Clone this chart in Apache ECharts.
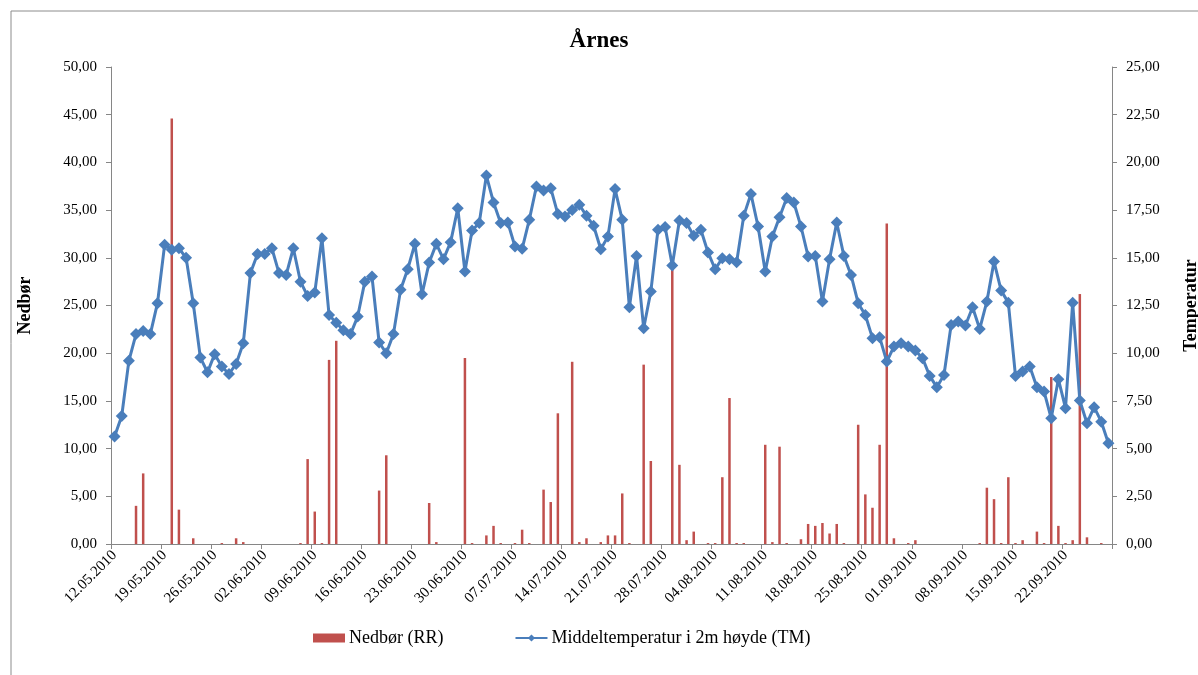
<!DOCTYPE html>
<html>
<head>
<meta charset="utf-8">
<script src="https://cdn.jsdelivr.net/npm/echarts@6/dist/echarts.min.js"></script>
<style>
html,body{margin:0;padding:0;background:#fff;overflow:hidden;}
#chart{width:1198px;height:675px;}
</style>
</head>
<body>
<div id="chart"></div>
<script>
var dates = [
"12.05.2010","13.05.2010","14.05.2010","15.05.2010","16.05.2010","17.05.2010","18.05.2010","19.05.2010","20.05.2010","21.05.2010",
"22.05.2010","23.05.2010","24.05.2010","25.05.2010","26.05.2010","27.05.2010","28.05.2010","29.05.2010","30.05.2010","31.05.2010",
"01.06.2010","02.06.2010","03.06.2010","04.06.2010","05.06.2010","06.06.2010","07.06.2010","08.06.2010","09.06.2010","10.06.2010",
"11.06.2010","12.06.2010","13.06.2010","14.06.2010","15.06.2010","16.06.2010","17.06.2010","18.06.2010","19.06.2010","20.06.2010",
"21.06.2010","22.06.2010","23.06.2010","24.06.2010","25.06.2010","26.06.2010","27.06.2010","28.06.2010","29.06.2010","30.06.2010",
"01.07.2010","02.07.2010","03.07.2010","04.07.2010","05.07.2010","06.07.2010","07.07.2010","08.07.2010","09.07.2010","10.07.2010",
"11.07.2010","12.07.2010","13.07.2010","14.07.2010","15.07.2010","16.07.2010","17.07.2010","18.07.2010","19.07.2010","20.07.2010",
"21.07.2010","22.07.2010","23.07.2010","24.07.2010","25.07.2010","26.07.2010","27.07.2010","28.07.2010","29.07.2010","30.07.2010",
"31.07.2010","01.08.2010","02.08.2010","03.08.2010","04.08.2010","05.08.2010","06.08.2010","07.08.2010","08.08.2010","09.08.2010",
"10.08.2010","11.08.2010","12.08.2010","13.08.2010","14.08.2010","15.08.2010","16.08.2010","17.08.2010","18.08.2010","19.08.2010",
"20.08.2010","21.08.2010","22.08.2010","23.08.2010","24.08.2010","25.08.2010","26.08.2010","27.08.2010","28.08.2010","29.08.2010",
"30.08.2010","31.08.2010","01.09.2010","02.09.2010","03.09.2010","04.09.2010","05.09.2010","06.09.2010","07.09.2010","08.09.2010",
"09.09.2010","10.09.2010","11.09.2010","12.09.2010","13.09.2010","14.09.2010","15.09.2010","16.09.2010","17.09.2010","18.09.2010",
"19.09.2010","20.09.2010","21.09.2010","22.09.2010","23.09.2010","24.09.2010","25.09.2010","26.09.2010","27.09.2010","28.09.2010"
];

var nedbor = [
0,0,0,4.0,7.4,0,0,0,44.6,3.6,
0,0.6,0,0,0,0.1,0,0.6,0.2,0,
0,0,0,0,0,0,0.1,8.9,3.4,0.1,
19.3,21.3,0,0,0,0,0,5.6,9.3,0,
0,0,0,0,4.3,0.2,0,0,0,19.5,
0.1,0,0.9,1.9,0.1,0,0.1,1.5,0.1,0,
5.7,4.4,13.7,0,19.1,0.2,0.6,0,0.2,0.9,
0.9,5.3,0.1,0,18.8,8.7,0,0,29.0,8.3,
0.4,1.3,0,0.1,0.1,7.0,15.3,0.1,0.1,0,
0,10.4,0.2,10.2,0.1,0,0.5,2.1,1.9,2.2,
1.1,2.1,0.1,0,12.5,5.2,3.8,10.4,33.6,0.6,
0,0.1,0.4,0,0,0,0,0,0,0,
0,0.1,5.9,4.7,0.1,7.0,0.1,0.4,0,1.3,
0.1,17.5,1.9,0.1,0.4,26.2,0.7,0,0.1,0
];

var temperatur = [
5.63,6.71,9.6,11.0,11.17,11.0,12.62,15.68,15.42,15.5,
15.0,12.62,9.77,9.0,9.95,9.3,8.91,9.44,10.52,14.2,
15.2,15.2,15.5,14.2,14.1,15.5,13.75,13.0,13.18,16.03,
12.0,11.6,11.2,11.0,11.92,13.75,14.02,10.56,10.0,11.0,
13.32,14.4,15.73,13.09,14.75,15.73,14.93,15.82,17.6,14.28,
16.43,16.82,19.31,17.9,16.82,16.85,15.59,15.47,16.99,18.74,
18.53,18.65,17.29,17.16,17.5,17.78,17.2,16.68,15.45,16.11,
18.6,16.99,12.41,15.1,11.31,13.23,16.47,16.61,14.6,16.95,
16.82,16.15,16.47,15.28,14.4,14.98,14.93,14.77,17.2,18.35,
16.64,14.28,16.11,17.13,18.13,17.9,16.64,15.07,15.1,12.71,
14.93,16.85,15.1,14.1,12.62,12.0,10.79,10.84,9.56,10.35,
10.52,10.35,10.14,9.74,8.81,8.22,8.86,11.48,11.66,11.45,
12.41,11.27,12.71,14.8,13.28,12.65,8.81,9.04,9.3,8.22,
7.99,6.59,8.64,7.12,12.65,7.52,6.33,7.17,6.41,5.28
];

var titleText = "Årnes";
var leftName = "Nedbør";
var rightName = "Temperatur";
var seriesNames = ["Nedbør (RR)", "Middeltemperatur i 2m høyde (TM)"];

var FONT = "'Liberation Serif', 'Times New Roman', serif";
var AXIS_COLOR = "#868686";
function fmt(v){ return v.toFixed(2).replace('.', ','); }

var chart = echarts.init(document.getElementById('chart'), null, {renderer:'canvas'});
chart.setOption({
  backgroundColor: '#ffffff',
  animation: false,
  textStyle: { fontFamily: FONT, color: '#000' },
  graphic: [{
    type: 'rect', left: 8.5, top: 8.5, silent: true,
    shape: { x: 0, y: 0, width: 1300, height: 800 },
    style: { fill: 'none', stroke: '#8c8c8c', lineWidth: 1 }
  }],
  title: {
    text: titleText, left: 'center', top: 25,
    textStyle: { fontFamily: FONT, fontSize: 23, fontWeight: 'bold', color: '#000' }
  },
  legend: {
    left: 308, top: 624, itemGap: 71, itemWidth: 32, itemHeight: 9,
    textStyle: { fontFamily: FONT, fontSize: 18, color: '#000', padding: [0,0,0,-1] },
    data: [
      { name: seriesNames[0], icon: 'rect' },
      { name: seriesNames[1] }
    ]
  },
  grid: { left: 111, right: 86, top: 67, bottom: 131, containLabel: false, outerBoundsMode: 'none' },
  xAxis: {
    type: 'category', data: dates, boundaryGap: true,
    axisLine: { lineStyle: { color: AXIS_COLOR, width: 1 } },
    axisTick: { show: true, interval: 6, length: 5, lineStyle: { color: AXIS_COLOR } },
    axisLabel: { interval: 6, rotate: 45, margin: 9, fontFamily: FONT, fontSize: 15, color: '#000' },
    splitLine: { show: false }
  },
  yAxis: [{
    type: 'value', min: 0, max: 50, interval: 5, position: 'left',
    name: leftName, nameLocation: 'middle', nameRotate: 90, nameGap: 77,
    nameTextStyle: { fontFamily: FONT, fontSize: 18, fontWeight: 'bold', color: '#000' },
    axisLine: { show: true, lineStyle: { color: AXIS_COLOR } },
    axisTick: { show: true, length: 5, lineStyle: { color: AXIS_COLOR } },
    axisLabel: { formatter: fmt, margin: 14, fontFamily: FONT, fontSize: 15, color: '#000' },
    splitLine: { show: false }
  }, {
    type: 'value', min: 0, max: 25, interval: 2.5, position: 'right',
    name: rightName, nameLocation: 'middle', nameRotate: 90, nameGap: 70,
    nameTextStyle: { fontFamily: FONT, fontSize: 18, fontWeight: 'bold', color: '#000' },
    axisLine: { show: true, lineStyle: { color: AXIS_COLOR } },
    axisTick: { show: true, length: 5, lineStyle: { color: AXIS_COLOR } },
    axisLabel: { formatter: fmt, margin: 14, fontFamily: FONT, fontSize: 15, color: '#000' },
    splitLine: { show: false }
  }],
  series: [{
    name: seriesNames[0], type: 'bar', yAxisIndex: 0, data: nedbor,
    barWidth: 2.5, itemStyle: { color: '#C0504D' }
  }, {
    name: seriesNames[1], type: 'line', yAxisIndex: 1, data: temperatur,
    symbol: 'diamond', symbolSize: 12, showAllSymbol: true,
    lineStyle: { color: '#4A7EBB', width: 3 },
    itemStyle: { color: '#4A7EBB' }
  }]
});
</script>
</body>
</html>
